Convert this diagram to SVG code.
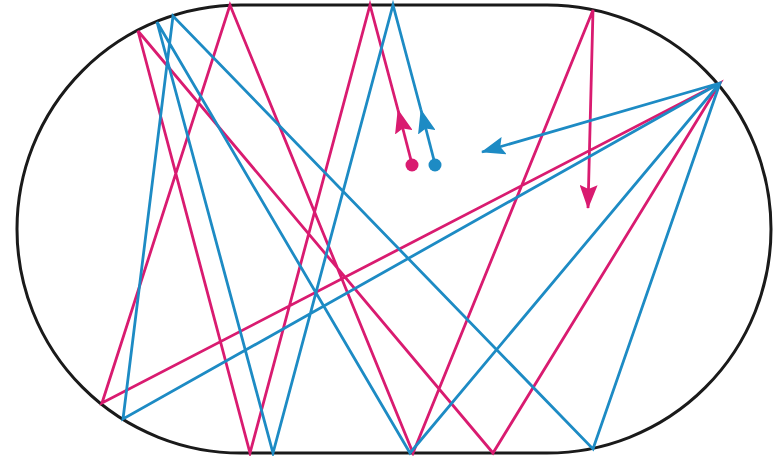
<svg xmlns="http://www.w3.org/2000/svg" width="780" height="456" viewBox="0 0 780 456">
<style>
.wall{fill:#ffffff;stroke:#1a1a1a;stroke-width:3}
.m{fill:none;stroke:#d91b70;stroke-width:2.8;stroke-linejoin:miter}
.c{fill:none;stroke:#1d8bc4;stroke-width:2.8;stroke-linejoin:miter}
</style>
<defs>
<marker id="am" viewBox="0 0 24 18" refX="23" refY="9" markerWidth="24" markerHeight="18" markerUnits="userSpaceOnUse" orient="auto"><path d="M0,0 L24,9 L0,18 L4,9 Z" fill="#d91b70"/></marker>
<marker id="ac" viewBox="0 0 24 18" refX="23" refY="9" markerWidth="24" markerHeight="18" markerUnits="userSpaceOnUse" orient="auto"><path d="M0,0 L24,9 L0,18 L4,9 Z" fill="#1d8bc4"/></marker>
</defs>
<rect width="780" height="456" fill="#ffffff"/>
<g id="stadium"><path class="wall" d="M241,5 H547 A224,224 0 0 1 547,453 H241 A224,224 0 0 1 241,5 Z"/></g>
<g id="connectors">
<polyline id="path-magenta" class="m" points="398,110 370,5 250,453 138,31 493,453 720,83 102,403 230,5 413,453 593,10 588,208" marker-end="url(#am)"/>
<polyline id="path-cyan" class="c" points="421,110 393,5 273,453 157,22 410,453 720,83 123,419 173,16 593,449 720,83 482,152" marker-end="url(#ac)"/>
<line class="m" x1="412" y1="164" x2="398" y2="110" marker-end="url(#am)"/>
<line class="c" x1="435" y1="164" x2="421" y2="110" marker-end="url(#ac)"/>
</g>
<g id="start-magenta"><circle cx="412" cy="165" r="6.5" fill="#d91b70"/></g>
<g id="start-cyan"><circle cx="435" cy="165" r="6.5" fill="#1d8bc4"/></g>
</svg>
